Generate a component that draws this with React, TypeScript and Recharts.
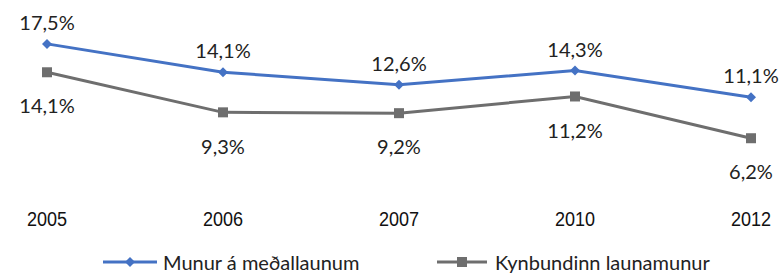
import React from 'react';
import { LineChart, Line, XAxis, YAxis, Legend, LabelList } from 'recharts';

const years = ['2005', '2006', '2007', '2010', '2012'];
const munurValues = [17.5, 14.1, 12.6, 14.3, 11.1];
const kynValues = [14.1, 9.3, 9.2, 11.2, 6.2];
const seriesNames = ['Munur á meðallaunum', 'Kynbundinn launamunur'];

const BLUE = '#4472C4';
const GRAY = '#6E6E6E';
const LABEL_FONT = "Lato, 'Open Sans', sans-serif";
const TICK_FONT = "'Liberation Sans', Arial, sans-serif";

const data = years.map((y, i) => ({ year: y, munur: munurValues[i], kyn: kynValues[i] }));

const fmt = (v: any) => Number(v).toFixed(1).replace('.', ',') + '%';

const DiamondDot = (props: any) => {
  const { cx, cy } = props;
  if (cx == null || cy == null) return null;
  const r = 5;
  return (
    <path
      d={`M${cx},${cy - r}L${cx + r},${cy}L${cx},${cy + r}L${cx - r},${cy}Z`}
      fill={BLUE}
    />
  );
};

const SquareDot = (props: any) => {
  const { cx, cy } = props;
  if (cx == null || cy == null) return null;
  const s = 10;
  return <rect x={cx - s / 2} y={cy - s / 2} width={s} height={s} fill={GRAY} />;
};

const NarrowTick = (props: any) => {
  const { x, y, payload } = props;
  return (
    <g transform={`translate(${x},${y}) scale(0.86,1)`}>
      <text x={0} y={0} dy="0.71em" textAnchor="middle" fontFamily={TICK_FONT} fontSize={21} fill="#111">
        {payload.value}
      </text>
    </g>
  );
};

const LegendContent = () => (
  <div style={{ position: 'relative', width: 784, height: 40, fontFamily: LABEL_FONT, fontSize: 20, color: '#222' }}>
    <div style={{ position: 'absolute', left: 103, top: 18, display: 'flex', alignItems: 'center', height: 22 }}>
      <svg width={54} height={12}>
        <line x1={0} y1={6} x2={54} y2={6} stroke={BLUE} strokeWidth={3} />
        <path d="M27,1L32,6L27,11L22,6Z" fill={BLUE} />
      </svg>
      <span style={{ marginLeft: 6, lineHeight: '22px' }}>{seriesNames[0]}</span>
    </div>
    <div style={{ position: 'absolute', left: 437, top: 18, display: 'flex', alignItems: 'center', height: 22 }}>
      <svg width={50} height={12}>
        <line x1={0} y1={6} x2={50} y2={6} stroke={GRAY} strokeWidth={3} />
        <rect x={20} y={1} width={10} height={10} fill={GRAY} />
      </svg>
      <span style={{ marginLeft: 8, lineHeight: '22px' }}>{seriesNames[1]}</span>
    </div>
  </div>
);

export default function App() {
  return (
    <div style={{ position: 'absolute', left: 0, top: 0, width: 784, height: 273, background: '#fff' }}>
      <LineChart width={784} height={273} data={data} margin={{ top: 23, right: 0, bottom: 0, left: 0 }}>
        <XAxis
          dataKey="year"
          axisLine={false}
          tickLine={false}
          tickSize={0}
          tickMargin={21}
          height={43}
          padding={{ left: 47, right: 33 }}
          tick={<NarrowTick />}
          interval={0}
        />
        <YAxis hide domain={[0, 20]} />
        <Legend verticalAlign="bottom" content={<LegendContent />} />
        <Line
          type="linear"
          dataKey="munur"
          name={seriesNames[0]}
          stroke={BLUE}
          strokeWidth={3}
          dot={<DiamondDot />}
          activeDot={false}
          isAnimationActive={false}
        >
          <LabelList
            dataKey="munur"
            position="top"
            offset={14}
            formatter={fmt}
            style={{ fontFamily: LABEL_FONT, fontSize: 20, fill: '#222' }}
          />
        </Line>
        <Line
          type="linear"
          dataKey="kyn"
          name={seriesNames[1]}
          stroke={GRAY}
          strokeWidth={3}
          dot={<SquareDot />}
          activeDot={false}
          isAnimationActive={false}
        >
          <LabelList
            dataKey="kyn"
            position="bottom"
            offset={27}
            formatter={fmt}
            style={{ fontFamily: LABEL_FONT, fontSize: 20, fill: '#222' }}
          />
        </Line>
      </LineChart>
    </div>
  );
}
